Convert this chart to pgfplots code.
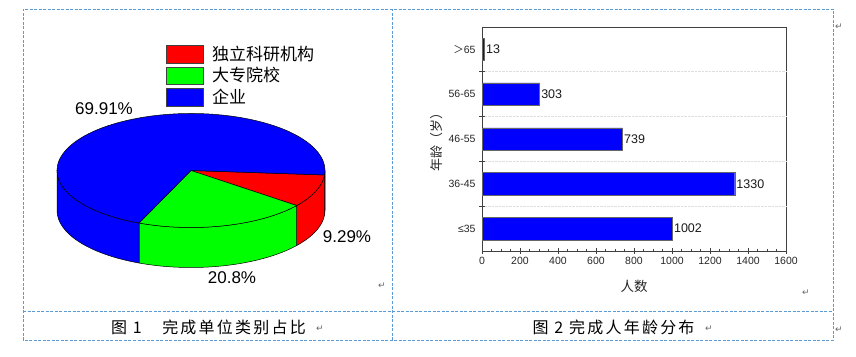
\documentclass[border=0pt]{standalone}
\usepackage{pgfplots}
\pgfplotsset{compat=1.18}
\usepackage{fontspec}
\setmainfont{Liberation Sans}
\newfontfamily\cjk{Noto Sans CJK SC}
\newfontfamily\cjkcap[LetterSpace=14]{Noto Sans CJK SC}
\newfontfamily\sym{DejaVu Sans}
\definecolor{border}{RGB}{91,155,213}
\definecolor{axgray}{RGB}{64,64,64}
\definecolor{pred}{RGB}{255,0,0}
\definecolor{pgreen}{RGB}{0,255,0}
\definecolor{pblue}{RGB}{0,0,255}
\tikzset{pie/.style={draw=black, line width=0.5pt, line join=round}}
\begin{document}
\begin{tikzpicture}
\useasboundingbox (0,0) rectangle (856pt,356pt);
% pie data (percent)
\def\vA{9.29}\def\vB{20.8}\def\vC{69.91}
\pgfmathsetmacro\sA{-4.5}
\pgfmathsetmacro\eA{\sA-3.6*\vA}
\pgfmathsetmacro\eB{\eA-3.6*\vB}
\pgfmathsetmacro\eC{\eB-3.6*\vC}
\begin{axis}[hide axis, x=1pt, y=1pt, xmin=0, xmax=856, ymin=0, ymax=356,
  anchor=origin, at={(0pt,0pt)}, clip=false]
  % border
  \draw[border, line width=0.8pt, dash pattern=on 3pt off 1.5pt] (23,16) rectangle (833,347);
  \draw[border, line width=0.8pt, dash pattern=on 3pt off 1.5pt] (392,16) -- (392,347);
  \draw[border, line width=0.8pt, dash pattern=on 3pt off 1.5pt] (23,44.3) -- (833,44.3);
  % side walls
  \filldraw[pie, fill=pblue] (191,185.5) ++(0:134pt and 57pt) arc[start angle=0, end angle=\sA, x radius=134pt, y radius=57pt] -- ++(0pt,-40pt) arc[start angle=\sA, end angle=0, x radius=134pt, y radius=57pt] -- cycle;
  \filldraw[pie, fill=pred] (191,185.5) ++(\sA:134pt and 57pt) arc[start angle=\sA, end angle=\eA, x radius=134pt, y radius=57pt] -- ++(0pt,-40pt) arc[start angle=\eA, end angle=\sA, x radius=134pt, y radius=57pt] -- cycle;
  \filldraw[pie, fill=pgreen] (191,185.5) ++(\eA:134pt and 57pt) arc[start angle=\eA, end angle=\eB, x radius=134pt, y radius=57pt] -- ++(0pt,-40pt) arc[start angle=\eB, end angle=\eA, x radius=134pt, y radius=57pt] -- cycle;
  \filldraw[pie, fill=pblue] (191,185.5) ++(\eB:134pt and 57pt) arc[start angle=\eB, end angle=-180, x radius=134pt, y radius=57pt] -- ++(0pt,-40pt) arc[start angle=-180, end angle=\eB, x radius=134pt, y radius=57pt] -- cycle;
  % top faces
  \filldraw[pie, fill=pred] (191,185.5) -- ++(\sA:134pt and 57pt) arc[start angle=\sA, end angle=\eA, x radius=134pt, y radius=57pt] -- cycle;
  \filldraw[pie, fill=pgreen] (191,185.5) -- ++(\eA:134pt and 57pt) arc[start angle=\eA, end angle=\eB, x radius=134pt, y radius=57pt] -- cycle;
  \filldraw[pie, fill=pblue] (191,185.5) -- ++(\eB:134pt and 57pt) arc[start angle=\eB, end angle=\eC, x radius=134pt, y radius=57pt] -- cycle;
  % pie labels
  \node[font=\fontsize{17}{20}\selectfont] at (104,247) {69.91\%};
  \node[font=\fontsize{17}{20}\selectfont] at (347,119) {9.29\%};
  \node[font=\fontsize{17}{20}\selectfont] at (232,78) {20.8\%};
  % legend
  \filldraw[fill=pred, draw=axgray, line width=0.6pt] (166,293) rectangle (203,311);
  \filldraw[fill=pgreen, draw=axgray, line width=0.6pt] (166,272) rectangle (203,289);
  \filldraw[fill=pblue, draw=axgray, line width=0.6pt] (166,250) rectangle (203,268);
  \node[anchor=west, inner sep=0pt, font=\cjk\fontsize{17}{20}\selectfont] at (212,302) {独立科研机构};
  \node[anchor=west, inner sep=0pt, font=\cjk\fontsize{17}{20}\selectfont] at (212,281) {大专院校};
  \node[anchor=west, inner sep=0pt, font=\cjk\fontsize{17}{20}\selectfont] at (212,259) {企业};
  % captions
  \node[font=\cjkcap\fontsize{16}{18}\selectfont] at (208.5,29) {图 1　完成单位类别占比};
  \node[font=\cjkcap\fontsize{16}{18}\selectfont] at (613.5,29) {图 2 完成人年龄分布};
  % paragraph marks
  \node[font=\sym\fontsize{9}{10}\selectfont, text=black!60, inner sep=0pt] at (382,70) {↵};
  \node[font=\sym\fontsize{9}{10}\selectfont, text=black!60, inner sep=0pt] at (320,27) {↵};
  \node[font=\sym\fontsize{9}{10}\selectfont, text=black!60, inner sep=0pt] at (709,27) {↵};
  \node[font=\sym\fontsize{9}{10}\selectfont, text=black!60, inner sep=0pt] at (839,329) {↵};
  \node[font=\sym\fontsize{9}{10}\selectfont, text=black!60, inner sep=0pt] at (806,63) {↵};
  \node[font=\sym\fontsize{9}{10}\selectfont, text=black!60, inner sep=0pt] at (839,26) {↵};
\end{axis}

\begin{axis}[at={(482pt,105pt)}, anchor=south west, scale only axis,
  width=304pt, height=224pt,
  xbar, xmin=0, xmax=1600, ymin=-0.5, ymax=4.5,
  bar width=22.4pt,
  /pgf/number format/assume math mode=true,
  /pgf/number format/1000 sep={},
  xtick={0,200,...,1600}, minor x tick num=3,
  ytick={0,1,2,3,4},
  yticklabels={≤35,36-45,46-55,56-65,{{\cjk ＞}65}},
  tick pos=left,
  major y tick style={draw=none},
  extra y ticks={0.5,1.5,2.5,3.5},
  extra y tick labels={},
  extra y tick style={ymajorgrids=true, major grid style={densely dotted, black!13, line width=0.6pt},
     major y tick style={draw=axgray}},
  axis line style={axgray, line width=0.8pt},
  every tick/.style={axgray, line width=0.6pt},
  tick align=center, major tick length=6pt, minor tick length=3pt,
  tick label style={font=\fontsize{10.5}{12}\selectfont, text=black!85},
  xlabel={\cjk 人数},
  ylabel={\cjk 年龄（岁）},
  xlabel style={at={(axis description cs:0.5,-0.16)}, anchor=center, font=\fontsize{13.5}{15}\selectfont, text=black!85},
  ylabel style={at={(axis description cs:-0.148,0.5)}, anchor=center, font=\fontsize{13}{15}\selectfont, text=black!85},
  nodes near coords={\fontsize{12.5}{14}\selectfont\pgfmathprintnumber{\pgfplotspointmeta}},
  every node near coord/.style={text=black!90, anchor=west, inner sep=1.5pt},
  clip=false,
]
\addplot[fill=pblue, draw=black!60, line width=0.4pt] coordinates {(1002,0) (1330,1) (739,2) (303,3) (13,4)};
\end{axis}
\end{tikzpicture}
\end{document}
